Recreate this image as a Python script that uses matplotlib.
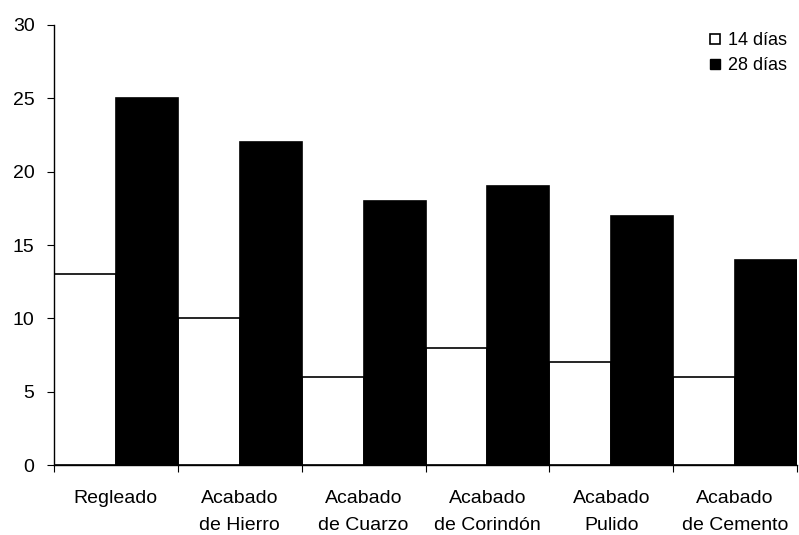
import numpy as np
import matplotlib.pyplot as plt
from matplotlib.lines import Line2D

plt.rcParams['font.family'] = ['Liberation Sans', 'DejaVu Sans']
plt.rcParams['font.size'] = 14

# Categorías y valores
categorias = ["Regleado", "Acabado\nde Hierro", "Acabado\nde Cuarzo",
              "Acabado\nde Corindón", "Acabado\nPulido", "Acabado\nde Cemento"]
dias_14 = [13, 10, 6, 8, 7, 6]
dias_28 = [25, 22, 18, 19, 17, 14]

fig = plt.figure(figsize=(7.99, 5.35), dpi=100)
ax = fig.add_axes([0.0676, 0.1308, 0.93, 0.8225])

x = np.arange(len(categorias))
ax.bar(x, dias_14, width=0.5, align='edge', color='white', edgecolor='black', linewidth=1.2)
ax.bar(x + 0.5, dias_28, width=0.5, align='edge', color='black', edgecolor='black', linewidth=1.2)

ax.set_xlim(0, len(categorias))
ax.set_ylim(0, 30)
ax.set_yticks(np.arange(0, 31, 5))

# ticks en los límites de cada categoría, etiquetas al centro
ax.set_xticks(np.arange(len(categorias) + 1))
ax.set_xticklabels([])
ax.set_xticks(x + 0.5, minor=True)
ax.set_xticklabels(categorias, minor=True, linespacing=1.8)
ax.tick_params(axis='x', which='minor', length=0, pad=18)
ax.tick_params(axis='x', which='major', length=5, direction='out')
ax.tick_params(axis='y', length=5, direction='out', pad=9)

for s in ['top', 'right']:
    ax.spines[s].set_visible(False)
for s in ['left', 'bottom']:
    ax.spines[s].set_linewidth(1.0)

handles = [Line2D([], [], marker='s', linestyle='none', markersize=7.5,
                  markerfacecolor='white', markeredgecolor='black', markeredgewidth=1.2),
           Line2D([], [], marker='s', linestyle='none', markersize=7.5,
                  markerfacecolor='black', markeredgecolor='black')]
ax.legend(handles, ["14 días", "28 días"], loc='upper right', bbox_to_anchor=(0.996, 1.0),
          frameon=False, handlelength=0.8, handletextpad=0.3, labelspacing=0.45,
          borderaxespad=0.0, fontsize=13)

fig.savefig('out.png', dpi=100)
